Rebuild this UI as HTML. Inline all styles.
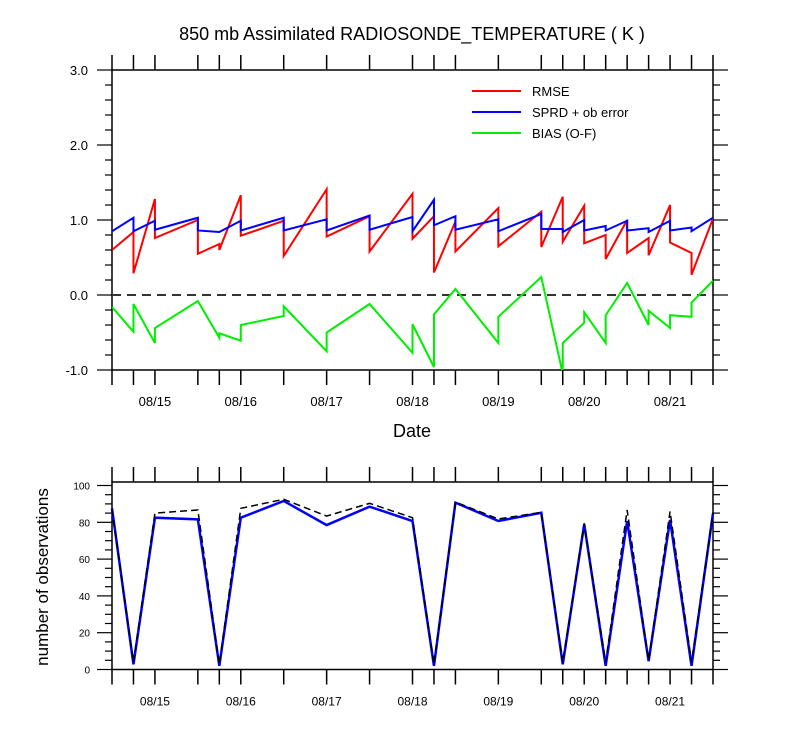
<!DOCTYPE html>
<html><head><meta charset="utf-8">
<style>
html,body{margin:0;padding:0;background:#fff;}
svg{display:block;font-family:"Liberation Sans",Arial,sans-serif;}
</style></head>
<body>
<svg id="chart" width="800" height="750" viewBox="0 0 800 750" xmlns="http://www.w3.org/2000/svg">
<text x="412" y="40" font-size="18" text-anchor="middle">850 mb Assimilated RADIOSONDE_TEMPERATURE ( K )</text>
<g id="top"></g>
<g id="bot"></g>
</svg>
<script>
// Time steps (6-hourly index from 08/14 12Z) with observations
const times = [0,1,2,4,5,6,8,10,12,14,15,16,18,20,21,22,23,24,25,26,27,28];
const dateTickTimes = [2,6,10,14,18,22,26];
const dateLabels = ["08/15","08/16","08/17","08/18","08/19","08/20","08/21"];
// Top panel: value arriving at each time (end of prev segment) and leaving (start of next)
const rmseIn  = [0.60,0.84,1.28,1.00,0.68,1.33,0.99,1.41,1.05,1.35,1.05,0.98,1.16,1.11,1.31,1.19,0.80,1.00,0.76,1.20,0.56,1.02];
const rmseOut = [0.60,0.29,0.76,0.55,0.60,0.79,0.52,0.78,0.58,0.75,0.30,0.58,0.65,0.64,0.71,0.69,0.48,0.56,0.53,0.70,0.27,1.02];
const sprdIn  = [0.85,1.03,0.99,1.03,0.84,0.99,1.03,1.01,1.06,1.04,1.27,1.05,1.01,1.08,0.88,1.00,0.92,0.99,0.89,0.99,0.90,1.03];
const sprdOut = [0.85,0.85,0.87,0.86,0.84,0.86,0.86,0.86,0.87,0.85,0.93,0.87,0.85,0.88,0.84,0.86,0.86,0.86,0.84,0.86,0.85,1.03];
const biasIn  = [-0.16,-0.49,-0.64,-0.08,-0.57,-0.61,-0.28,-0.75,-0.12,-0.77,-0.96,0.08,-0.64,0.24,-1.05,-0.37,-0.64,0.16,-0.40,-0.44,-0.29,0.19];
const biasOut = [-0.16,-0.12,-0.44,-0.08,-0.51,-0.40,-0.15,-0.50,-0.12,-0.39,-0.26,0.08,-0.29,0.24,-0.64,-0.23,-0.27,0.16,-0.21,-0.27,-0.10,0.19];
const topTicks = [3.0,2.0,1.0,0.0,-1.0];
const topTickLabels = ["3.0","2.0","1.0","0.0","-1.0"];
// Bottom panel: observation counts
const obsUsed  = [87.6,2.8,82.5,81.6,2,82.5,91.6,78.5,88.5,80.7,2,90.7,80.7,85.2,2.8,78.9,2,80.7,4.5,81.3,2,84.9];
const obsTotal = [87,4,85,86.7,3,87.6,92.5,83.4,90.3,82.5,3,91,81.8,85.4,4,79.5,4,86.7,5,85.9,4,85.4];
const botTicks = [0,20,40,60,80,100];

const NS="http://www.w3.org/2000/svg";
const X0=112, X1=713, TMAX=28;
const xs = t => X0 + (X1-X0)*t/TMAX;
const yTop = v => 295 - 75*v;
const yBot = v => 669.5 - 1.84*v;

function el(parent, tag, attrs){ const e=document.createElementNS(NS,tag); for(const k in attrs) e.setAttribute(k,attrs[k]); parent.appendChild(e); return e; }

function frame(g, top, bottom, kind){
  const fr = el(g,'rect',{x:X0,y:top,width:X1-X0,height:bottom-top,fill:'none',stroke:'#000','stroke-width':1.5});
  
  
  times.forEach(t=>{
    const x=xs(t);
    const a=el(g,'line',{x1:x,x2:x,y1:bottom,y2:bottom+15,stroke:'#000','stroke-width':1.5});
    
    
    const b=el(g,'line',{x1:x,x2:x,y1:top,y2:top-15,stroke:'#000','stroke-width':1.5});
    
    
  });
  dateTickTimes.forEach((t,i)=>{
    const tx=el(g,'text',{x:xs(t),y:bottom+36,'font-size':kind==='top'?13:12,'text-anchor':'middle'});
    tx.textContent=dateLabels[i];
    
    
  });
}

function poly(g, ys, inArr, outArr, color, w, dash, name){
  const pts=[];
  times.forEach((t,i)=>{ pts.push(xs(t)+','+ys(inArr[i])); if(outArr && outArr[i]!==inArr[i]) pts.push(xs(t)+','+ys(outArr[i])); });
  const p=el(g,'polyline',{points:pts.join(' '),fill:'none',stroke:color,'stroke-width':w,'stroke-linejoin':'miter'});
  if(dash) p.setAttribute('stroke-dasharray',dash);
  
  
}

// ---- Top panel
const gt=document.getElementById('top');
const clip=el(gt,'clipPath',{id:'clipTop'}); el(clip,'rect',{x:X0,y:70,width:X1-X0,height:300});
frame(gt,70,370,'top');
for(let v=-1;v<=3.001;v+=0.2){
  const y=yTop(v); const major=Math.abs(v-Math.round(v))<0.01; const L=major?15:7;
  [[X0,X0-L],[X1,X1+L]].forEach(([a,b])=>{
    const ln=el(gt,'line',{x1:a,x2:b,y1:y,y2:y,stroke:'#000','stroke-width':1.2});
    
    
  });
}
topTicks.forEach((v,i)=>{
  const tx=el(gt,'text',{x:88,y:yTop(v)+5,'font-size':13,'text-anchor':'end'});
  tx.textContent=topTickLabels[i];
  
  
});
const zl=el(gt,'line',{x1:X0,x2:X1,y1:yTop(0),y2:yTop(0),stroke:'#333','stroke-width':2,'stroke-dasharray':'9,6'});


const gc=el(gt,'g',{'clip-path':'url(#clipTop)'});
poly(gc,yTop,rmseIn,rmseOut,'#ff0000',2,null,'rmse-line');
poly(gc,yTop,sprdIn,sprdOut,'#0000ff',2,null,'sprd-line');
poly(gc,yTop,biasIn,biasOut,'#00ee00',2,null,'bias-line');
const xt=el(gt,'text',{x:412,y:437,'font-size':18,'text-anchor':'middle'});
xt.textContent='Date';


[['RMSE','#ff0000',91],['SPRD + ob error','#0000ff',112],['BIAS (O-F)','#00ee00',133]].forEach(([lab,c,y])=>{
  const g=el(gt,'g',{});
  
  
  el(g,'line',{x1:472,x2:521,y1:y,y2:y,stroke:c,'stroke-width':2});
  const t=el(g,'text',{x:532,y:y+5,'font-size':13});
  t.textContent=lab;
});

// ---- Bottom panel
const gb=document.getElementById('bot');
frame(gb,482,669.5,'bottom');
for(let v=0;v<=100;v+=5){
  const y=yBot(v); const major=v%20===0; const L=major?15:7;
  [[X0,X0-L],[X1,X1+L]].forEach(([a,b])=>{
    const ln=el(gb,'line',{x1:a,x2:b,y1:y,y2:y,stroke:'#000','stroke-width':1.2});
    
    
  });
}
botTicks.forEach(v=>{
  const tx=el(gb,'text',{x:90,y:yBot(v)+4,'font-size':10,'text-anchor':'end'});
  tx.textContent=String(v);
  
  
});
const yt=el(gb,'text',{x:0,y:0,'font-size':17,'text-anchor':'middle',transform:'translate(48,577) rotate(-90)'});
yt.textContent='number of observations';


poly(gb,yBot,obsUsed,null,'#0000ff',2.5,null,'obs-used-line');
poly(gb,yBot,obsTotal,null,'#000',1.5,'7,4','obs-total-line');
</script>
</body></html>
